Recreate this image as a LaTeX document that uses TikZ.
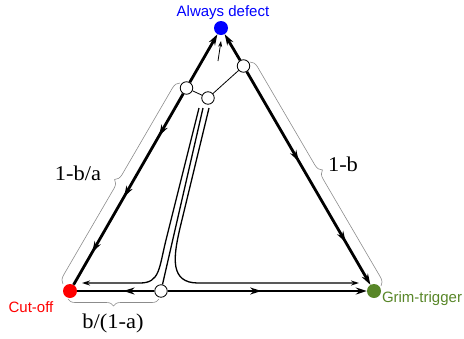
\documentclass[tikz,border=0pt]{standalone}
\usepackage{fontspec}
\setmainfont{Liberation Serif}
\newfontfamily\vtxfont{Liberation Sans}
\newfontfamily\numfont[FakeStretch=1.07]{Liberation Serif}
\usetikzlibrary{arrows.meta,decorations.markings,decorations.pathreplacing}
\definecolor{adblue}{RGB}{0,0,255}
\definecolor{cored}{RGB}{255,0,0}
\definecolor{gtgreen}{RGB}{88,134,40}
\definecolor{bracegray}{RGB}{140,140,140}
\newcommand{\hd}{\arrow{Stealth[length=11pt,width=7pt]}}
\tikzset{
  vtx/.style={circle,inner sep=0pt,minimum size=14pt},
  opendot/.style={circle,draw,fill=white,inner sep=0pt,minimum size=12.5pt,line width=0.8pt},
  edge/.style={line width=2.8pt},
  bigtip/.style={-{Stealth[length=11pt,width=7pt]}},
  flow/.style={line width=1.3pt,-{Stealth[length=8pt,width=5pt]}},
  thinline/.style={line width=0.8pt},
  vtxlabel/.style={font=\vtxfont\fontsize{15}{15}\selectfont},
  numlabel/.style={font=\numfont\fontsize{21}{21}\selectfont},
  bracket/.style={bracegray,line width=0.6pt,decorate,decoration={brace,amplitude=#1}}
}
\begin{document}
\begin{tikzpicture}[x=1pt,y=-1pt]
    \useasboundingbox (0,0) rectangle (464,338);
    \node[vtx,fill=adblue] (ad) at (221,28) {};
    \node[vtx,fill=cored] (co) at (70,291) {};
    \node[vtx,fill=gtgreen] (gt) at (374,291) {};
    \node[opendot] (p1) at (186.5,88) {};
    \node[opendot] (p2) at (208,98) {};
    \node[opendot] (p3) at (243.5,66) {};
    \node[opendot] (p4) at (161,291) {};
    \node[vtxlabel,text=adblue] (adlab) at (223,13) {Always defect};
    \node[vtxlabel,text=cored] (colab) at (31,307) {Cut-off};
    \node[vtxlabel,text=gtgreen] (gtlab) at (422,299) {Grim-trigger};
    \node[numlabel] (lab1) at (78,173) {1-b/a};
    \node[numlabel] (lab2) at (343,164) {1-b};
    \node[numlabel] (lab3) at (113,323) {b/(1-a)};
    \draw[edge,bigtip] (p1) -- (ad);
    \draw[edge,bigtip] (p3) -- (ad);
    \draw[edge,postaction={decorate},decoration={markings,mark=at position 0.22 with {\hd},mark=at position 0.54 with {\hd},mark=at position 0.83 with {\hd}}] (p1) -- (co);
    \draw[edge,bigtip,postaction={decorate},decoration={markings,mark=at position 0.42 with {\hd},mark=at position 0.8 with {\hd}}] (p3) -- (gt);
    \draw[edge,postaction={decorate},decoration={markings,mark=at position 0.4 with {\hd}}] (p4) -- (co);
    \draw[edge,bigtip,postaction={decorate},decoration={markings,mark=at position 0.47 with {\hd}}] (p4) -- (gt);
    \draw[thinline] (p1) -- (p2);
    \draw[thinline] (p2) -- (p3);
    \coordinate (s0) at (218,61);
    \coordinate (s1) at (221,41);
    \draw[thinline,-{Stealth[length=6pt,width=4pt]}] (s0) -- (s1);
    \coordinate (c1) at (199,108);
    \coordinate (c2) at (203,108);
    \coordinate (c3) at (209,108);
    \coordinate (e1) at (82,283);
    \coordinate (e2) at (359,283);
    \draw[flow] (c1) -- (166,240) .. controls (159,268) and (160,283) .. (140,283) -- (e1);
    \draw[line width=1.3pt] (c2) -- (p4);
    \draw[flow] (c3) -- (180,228) .. controls (173,258) and (170,283) .. (198,283) -- (e2);
    \coordinate (b1) at (63,284);
    \coordinate (b2) at (180,83);
    \coordinate (b3) at (250,62);
    \coordinate (b4) at (381,286);
    \coordinate (b5) at (159,299);
    \coordinate (b6) at (68,299);
    \draw[bracket=8pt] (b1) -- (b2);
    \draw[bracket=8pt] (b3) -- (b4);
    \draw[bracket=7pt] (b5) -- (b6);
\end{tikzpicture}
\end{document}
